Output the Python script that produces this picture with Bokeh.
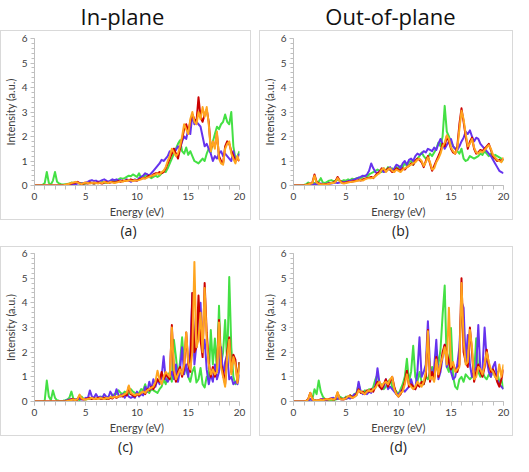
from bokeh.plotting import figure
from bokeh.layouts import column, row
from bokeh.models import SingleIntervalTicker, Range1d, Spacer
from bokeh.core.properties import value
from bokeh.embed import file_html
from bokeh.resources import INLINE

# Energy grid (eV), 0.2 eV steps
energy = [round(0.2 * i, 1) for i in range(101)]

x_ticks_major = 5
y_ticks_major = 1
headings = ["In-plane", "Out-of-plane"]
panel_labels = ["(a)", "(b)", "(c)", "(d)"]
series_names = ["green", "purple", "red", "orange"]

# ---- panel (a) ----
a_green = [0, 0, 0, 0.01, 0.03, 0.1, 0.55, 0.1, 0.04, 0.2,
           0.55, 0.15, 0.08, 0.05, 0.04, 0.05, 0.06, 0.08, 0.12, 0.1,
           0.12, 0.1, 0.08, 0.1, 0.06, 0.08, 0.1, 0.12, 0.1, 0.08,
           0.1, 0.14, 0.12, 0.15, 0.13, 0.1, 0.12, 0.15, 0.2, 0.18,
           0.22, 0.25, 0.3, 0.28, 0.3, 0.35, 0.4, 0.38, 0.45, 0.4,
           0.35, 0.5, 0.3, 0.35, 0.4, 0.45, 0.35, 0.3, 0.35, 0.4,
           0.35, 0.4, 0.5, 0.6, 0.55, 0.7, 0.9, 1.1, 1.3, 1.5,
           1.7, 1.85, 1.4, 1.3, 1.55, 1.25, 1.4, 1.2, 1.0, 0.95,
           0.9, 1.0, 1.1, 1.0, 1.3, 1.5, 1.35, 1.8, 2.1, 2.4,
           2.3, 2.5, 2.6, 2.9, 2.6, 2.5, 3.0, 1.6, 1.1, 1.2,
           1.4]
a_purple = [0, 0, 0, 0, 0, 0, 0, 0, 0, 0,
            0, 0, 0, 0, 0, 0.02, 0.03, 0.05, 0.04, 0.06,
            0.05, 0.08, 0.1, 0.07, 0.1, 0.12, 0.15, 0.2, 0.22, 0.18,
            0.2, 0.15, 0.18, 0.22, 0.25, 0.2, 0.15, 0.2, 0.25, 0.22,
            0.25, 0.2, 0.22, 0.18, 0.2, 0.25, 0.22, 0.15, 0.2, 0.25,
            0.2, 0.3, 0.35, 0.4, 0.5, 0.45, 0.4, 0.5, 0.6, 0.7,
            0.8, 0.9, 1.05, 1.0, 1.1, 1.2, 1.4, 1.3, 1.5, 1.45,
            1.6, 1.5, 1.8, 2.0, 1.9, 2.3, 2.1, 2.9, 2.5, 2.6,
            2.5, 2.4, 2.0, 1.6, 1.7, 1.5, 1.3, 1.0, 1.2, 1.1,
            1.3, 1.4, 1.2, 1.3, 1.2, 1.1, 1.0, 1.4, 1.0, 1.1,
            1.3]
a_red = [0, 0, 0, 0, 0, 0, 0, 0, 0, 0,
         0, 0, 0, 0, 0, 0.02, 0.04, 0.06, 0.08, 0.1,
         0.12, 0.15, 0.1, 0.05, 0.08, 0.1, 0.08, 0.12, 0.1, 0.08,
         0.1, 0.12, 0.1, 0.08, 0.12, 0.15, 0.1, 0.12, 0.15, 0.12,
         0.15, 0.18, 0.15, 0.2, 0.18, 0.22, 0.2, 0.25, 0.22, 0.2,
         0.2, 0.25, 0.28, 0.3, 0.3, 0.35, 0.4, 0.38, 0.45, 0.5,
         0.5, 0.55, 0.5, 0.55, 0.7, 0.9, 1.1, 1.3, 1.5, 1.3,
         1.1, 1.5, 1.9, 2.3, 2.5, 2.2, 2.6, 2.9, 2.7, 2.6,
         3.6, 2.8, 2.6, 2.9, 3.1, 2.6, 1.5, 1.7, 1.6, 2.1,
         1.2, 1.0, 0.9, 1.6, 1.8, 1.7, 1.4, 1.2, 1.0, 1.1,
         1.0]
a_orange = [0, 0, 0, 0, 0, 0, 0, 0, 0, 0,
            0, 0, 0, 0, 0, 0.03, 0.05, 0.07, 0.1, 0.12,
            0.15, 0.12, 0.08, 0.06, 0.1, 0.12, 0.1, 0.08, 0.1, 0.12,
            0.1, 0.08, 0.12, 0.1, 0.15, 0.12, 0.1, 0.15, 0.12, 0.1,
            0.12, 0.15, 0.18, 0.15, 0.2, 0.18, 0.22, 0.2, 0.18, 0.22,
            0.2, 0.22, 0.25, 0.3, 0.28, 0.32, 0.35, 0.4, 0.42, 0.45,
            0.5, 0.45, 0.55, 0.6, 0.75, 1.0, 1.2, 1.5, 1.35, 1.2,
            1.3, 1.6, 2.0, 2.5, 2.3, 2.1, 2.7, 3.0, 2.6, 2.5,
            3.0, 2.7, 3.2, 2.8, 3.2, 2.5, 1.4, 1.8, 1.5, 2.2,
            1.1, 0.9, 0.85, 1.5, 1.7, 1.8, 1.3, 1.1, 0.9, 1.2,
            1.0]

# ---- panel (b) ----
b_green = [0, 0, 0, 0, 0, 0.02, 0.05, 0.12, 0.05, 0.08,
           0.1, 0.08, 0.15, 0.3, 0.12, 0.1, 0.15, 0.2, 0.22, 0.18,
           0.2, 0.25, 0.2, 0.18, 0.22, 0.2, 0.25, 0.22, 0.28, 0.25,
           0.3, 0.32, 0.3, 0.35, 0.4, 0.35, 0.45, 0.5, 0.55, 0.6,
           0.65, 0.6, 0.55, 0.7, 0.6, 0.75, 0.65, 0.7, 0.6, 0.75,
           0.7, 0.8, 0.75, 0.9, 0.8, 0.95, 1.0, 0.85, 1.0, 1.1,
           1.2, 1.35, 1.2, 1.1, 1.15, 1.3, 1.2, 1.35, 1.5, 1.75,
           1.6, 2.0, 3.25, 2.2, 2.0, 1.8, 1.6, 1.5, 1.4, 1.3,
           1.5, 1.1, 1.0, 1.05, 1.2, 1.15, 1.1, 1.15, 1.2, 1.3,
           1.25, 1.4, 1.3, 1.2, 1.3, 1.1, 1.25, 1.2, 1.15, 1.1,
           1.0]
b_purple = [0, 0, 0, 0, 0, 0, 0.02, 0.03, 0.05, 0.04,
            0.05, 0.06, 0.05, 0.08, 0.06, 0.05, 0.07, 0.1, 0.08, 0.1,
            0.12, 0.1, 0.12, 0.15, 0.13, 0.15, 0.18, 0.2, 0.22, 0.25,
            0.28, 0.32, 0.35, 0.4, 0.38, 0.45, 0.6, 0.9, 0.7, 0.55,
            0.5, 0.6, 0.65, 0.55, 0.6, 0.65, 0.75, 0.6, 0.7, 0.85,
            0.8, 0.7, 0.9, 1.0, 0.85, 1.05, 1.1, 1.0, 1.2, 1.3,
            1.25, 1.3, 1.4, 1.35, 1.5, 1.45, 1.4, 1.55, 1.45, 1.7,
            1.9, 1.7, 1.5, 1.65, 1.8, 1.9, 1.6, 1.5, 1.45, 1.6,
            1.8, 1.95, 2.2, 2.1, 2.25, 2.0, 1.8, 1.95, 1.9, 1.7,
            1.6, 1.5, 1.4, 1.3, 1.2, 1.05, 0.9, 0.75, 0.6, 0.55,
            0.5]
b_red = [0, 0, 0, 0, 0, 0, 0.02, 0.05, 0.08, 0.12,
         0.45, 0.15, 0.08, 0.05, 0.04, 0.05, 0.06, 0.08, 0.1, 0.12,
         0.18, 0.35, 0.2, 0.12, 0.1, 0.12, 0.15, 0.14, 0.16, 0.18,
         0.2, 0.22, 0.2, 0.25, 0.28, 0.3, 0.32, 0.35, 0.3, 0.4,
         0.5, 0.55, 0.7, 0.65, 0.6, 0.7, 0.65, 0.55, 0.6, 0.7,
         0.65, 0.6, 0.7, 0.65, 0.75, 0.8, 0.9, 0.85, 1.0, 1.1,
         1.05, 0.95, 0.75, 1.0, 1.2, 0.9, 0.6, 0.8, 1.0, 1.2,
         1.4, 1.7, 1.6, 2.0, 1.8, 1.5, 1.35, 1.3, 1.6, 2.5,
         3.15, 2.6, 2.0, 1.5, 1.8, 1.95, 1.5, 1.3, 1.35, 1.45,
         1.4, 1.5, 1.6, 1.7, 1.45, 1.2, 1.1, 1.0, 1.05, 1.0,
         1.1]
b_orange = [0, 0, 0, 0, 0, 0, 0.02, 0.04, 0.07, 0.1,
            0.4, 0.12, 0.06, 0.04, 0.05, 0.04, 0.05, 0.07, 0.1, 0.1,
            0.15, 0.3, 0.18, 0.1, 0.08, 0.1, 0.12, 0.14, 0.15, 0.16,
            0.18, 0.2, 0.22, 0.2, 0.25, 0.28, 0.3, 0.3, 0.32, 0.38,
            0.45, 0.5, 0.65, 0.7, 0.55, 0.65, 0.7, 0.6, 0.55, 0.65,
            0.6, 0.55, 0.65, 0.7, 0.75, 0.8, 0.85, 0.9, 0.95, 1.05,
            1.1, 1.0, 0.8, 0.95, 1.15, 0.95, 0.65, 0.7, 0.95, 1.1,
            1.3, 1.6, 1.75, 2.05, 1.9, 1.55, 1.4, 1.3, 1.5, 2.3,
            3.05, 2.7, 2.1, 1.6, 1.7, 1.9, 1.55, 1.35, 1.3, 1.4,
            1.35, 1.45, 1.55, 1.65, 1.5, 1.25, 1.15, 1.05, 1.0, 0.95,
            1.15]

# ---- panel (c) ----
c_green = [0, 0, 0, 0, 0, 0.05, 0.85, 0.2, 0.05, 0.45,
           0.15, 0.05, 0.03, 0.02, 0.03, 0.05, 0.08, 0.15, 0.4, 0.1,
           0.08, 0.1, 0.05, 0.2, 0.1, 0.08, 0.12, 0.1, 0.15, 0.12,
           0.1, 0.15, 0.12, 0.2, 0.15, 0.1, 0.2, 0.15, 0.25, 0.3,
           0.3, 0.45, 0.35, 0.3, 0.4, 0.35, 0.3, 0.5, 0.4, 0.35,
           0.3, 0.35, 0.5, 0.45, 0.7, 0.4, 0.35, 0.5, 0.45, 0.4,
           0.35, 0.5, 0.6, 0.9, 0.7, 1.0, 1.2, 0.8, 2.5, 1.8,
           1.0, 1.6, 2.6, 1.5, 1.3, 1.0, 0.8, 1.2, 1.4, 0.77,
           0.9, 1.36, 0.7, 0.57, 1.0, 0.9, 2.9, 1.5, 2.55, 1.2,
           3.88, 1.5, 2.0, 3.3, 1.5, 5.05, 2.2, 1.0, 0.7, 0.9,
           1.6]
c_purple = [0, 0, 0, 0, 0, 0, 0, 0, 0, 0,
            0, 0, 0, 0, 0, 0.02, 0.05, 0.08, 0.1, 0.05,
            0.08, 0.1, 0.12, 0.08, 0.1, 0.15, 0.12, 0.45, 0.2, 0.15,
            0.3, 0.15, 0.2, 0.12, 0.3, 0.2, 0.15, 0.4, 0.25, 0.2,
            0.5, 0.25, 0.2, 0.3, 0.15, 0.3, 0.2, 0.15, 0.2, 0.15,
            0.4, 0.2, 0.3, 0.25, 0.6, 0.4, 0.8, 0.5, 0.9, 0.6,
            0.9, 0.7, 1.0, 1.83, 0.9, 0.8, 1.0, 1.2, 0.9, 1.5,
            0.8, 1.3, 2.2, 1.1, 1.5, 1.0, 2.0, 4.4, 1.5, 2.3,
            3.0, 4.0, 2.0, 2.5, 1.3, 0.7, 1.1, 0.8, 1.5, 0.9,
            1.2, 2.2, 1.0, 1.6, 1.9, 0.9, 1.0, 0.7, 0.8, 0.7,
            1.1]
c_red = [0, 0, 0, 0, 0, 0, 0, 0, 0, 0,
         0, 0, 0, 0, 0, 0, 0.02, 0.05, 0.08, 0.1,
         0.05, 0.08, 0.25, 0.1, 0.08, 0.1, 0.12, 0.15, 0.1, 0.12,
         0.1, 0.15, 0.12, 0.1, 0.15, 0.12, 0.1, 0.15, 0.12, 0.2,
         0.15, 0.2, 0.25, 0.2, 0.3, 0.25, 0.6, 0.3, 0.25, 0.2,
         0.3, 0.25, 0.35, 0.4, 0.3, 0.5, 0.45, 0.6, 0.5, 0.7,
         0.9, 0.8, 1.2, 0.9, 1.1, 1.0, 0.9, 3.1, 1.2, 0.8,
         1.2, 1.4, 1.0, 1.4, 2.8, 1.5, 1.2, 4.4, 2.0, 2.2,
         4.3, 2.5, 1.8, 4.8, 2.8, 1.6, 1.0, 1.4, 1.0, 1.3,
         3.3, 1.5, 1.2, 0.7, 2.0, 2.6, 1.2, 1.9, 1.7, 0.8,
         1.6]
c_orange = [0, 0, 0, 0, 0, 0, 0, 0, 0, 0,
            0, 0, 0, 0, 0, 0, 0.02, 0.04, 0.06, 0.08,
            0.05, 0.1, 0.28, 0.12, 0.1, 0.08, 0.1, 0.12, 0.15, 0.1,
            0.12, 0.1, 0.15, 0.12, 0.1, 0.15, 0.12, 0.18, 0.15, 0.2,
            0.18, 0.2, 0.22, 0.25, 0.3, 0.35, 0.65, 0.35, 0.3, 0.25,
            0.3, 0.28, 0.35, 0.4, 0.35, 0.45, 0.5, 0.55, 0.6, 0.8,
            1.25, 0.9, 0.7, 1.0, 1.2, 1.1, 1.0, 3.0, 1.3, 0.9,
            1.1, 1.3, 1.1, 1.5, 2.8, 1.6, 1.3, 2.0, 5.66, 2.2,
            2.5, 3.6, 2.0, 4.6, 2.5, 1.5, 1.1, 1.3, 1.1, 1.2,
            3.2, 1.4, 1.0, 0.6, 1.8, 2.5, 1.1, 1.8, 1.5, 0.75,
            1.5]

# ---- panel (d) ----
d_green = [0, 0, 0, 0, 0, 0, 0.02, 0.05, 0.08, 0.1,
           0.5, 0.3, 0.85, 0.4, 0.2, 0.1, 0.08, 0.05, 0.06, 0.05,
           0.08, 0.1, 0.2, 0.15, 0.1, 0.2, 0.15, 0.25, 0.2, 0.3,
           0.35, 0.7, 0.4, 0.35, 0.45, 0.4, 0.5, 0.45, 0.6, 0.9,
           1.1, 0.6, 0.7, 0.5, 0.6, 0.8, 0.9, 0.6, 0.5, 0.4,
           0.3, 0.5, 0.7, 1.0, 1.73, 0.8, 1.2, 2.26, 1.0, 0.8,
           1.2, 0.8, 0.7, 1.0, 0.9, 1.2, 1.4, 1.0, 2.1, 1.5,
           2.1, 3.5, 4.7, 1.4, 1.2, 2.98, 1.0, 0.6, 0.5, 0.9,
           1.0, 0.8, 1.1, 1.0, 0.9, 1.0, 1.1, 2.56, 1.2, 1.0,
           1.2, 1.0, 0.9, 1.1, 1.0, 1.3, 1.0, 1.2, 0.8, 0.9,
           0.5]
d_purple = [0, 0, 0, 0, 0, 0, 0, 0.03, 0.1, 0.05,
            0.05, 0.03, 0.05, 0.08, 0.1, 0.05, 0.08, 0.1, 0.12, 0.15,
            0.1, 0.12, 0.1, 0.08, 0.12, 0.1, 0.15, 0.12, 0.2, 0.3,
            0.25, 0.8, 0.4, 0.3, 0.35, 0.3, 0.4, 0.35, 0.5, 0.6,
            1.35, 0.7, 0.5, 0.6, 0.9, 0.5, 0.6, 0.5, 0.4, 0.3,
            0.3, 0.4, 0.5, 0.4, 0.5, 0.6, 0.9, 0.6, 0.5, 1.2,
            2.6, 1.0, 1.2, 1.5, 3.25, 1.4, 1.0, 1.4, 2.5, 0.9,
            1.2, 1.8, 2.3, 1.4, 1.7, 1.2, 0.9, 1.0, 1.5, 2.2,
            4.05, 3.8, 1.6, 2.7, 1.5, 1.0, 1.2, 1.4, 3.1, 1.2,
            1.3, 3.0, 1.7, 1.2, 1.0, 1.4, 1.6, 0.9, 0.7, 0.6,
            0.5]
d_red = [0, 0, 0, 0, 0, 0, 0.02, 0.1, 0.35, 0.1,
         0.05, 0.03, 0.05, 0.08, 0.05, 0.1, 0.08, 0.1, 0.12, 0.08,
         0.1, 0.35, 0.12, 0.1, 0.08, 0.15, 0.2, 0.25, 0.15, 0.2,
         0.3, 0.5, 0.35, 0.4, 0.3, 0.45, 0.4, 0.5, 0.4, 0.6,
         0.8, 0.6, 0.5, 0.7, 0.9, 0.6, 0.8, 1.0, 0.6, 0.3,
         0.2, 0.3, 0.5, 0.8, 1.25, 0.6, 0.7, 0.6, 0.5, 0.7,
         0.6, 0.8, 0.7, 1.0, 2.9, 0.8, 1.2, 0.9, 1.8, 1.0,
         1.4, 2.0, 2.3, 2.0, 1.6, 1.3, 1.5, 1.3, 1.2, 1.5,
         5.0, 2.0, 1.6, 1.4, 3.0, 2.0, 0.8, 1.2, 1.5, 1.2,
         1.0, 1.4, 2.1, 1.5, 1.2, 1.3, 1.1, 0.8, 0.6, 0.9,
         1.3]
d_orange = [0, 0, 0, 0, 0, 0, 0.02, 0.08, 0.35, 0.08,
            0.05, 0.04, 0.05, 0.06, 0.05, 0.08, 0.1, 0.08, 0.1, 0.08,
            0.12, 0.38, 0.1, 0.08, 0.1, 0.12, 0.22, 0.2, 0.15, 0.18,
            0.25, 0.45, 0.4, 0.35, 0.3, 0.4, 0.45, 0.4, 0.5, 0.55,
            0.7, 0.8, 0.6, 0.75, 0.8, 0.7, 0.9, 1.0, 0.5, 0.3,
            0.2, 0.35, 0.4, 0.7, 1.1, 0.7, 0.6, 0.5, 0.6, 0.8,
            0.7, 0.6, 0.8, 1.2, 2.85, 0.9, 1.0, 0.8, 1.7, 1.1,
            1.5, 1.8, 2.2, 1.5, 3.8, 1.4, 1.6, 1.2, 1.3, 1.4,
            4.8, 2.5, 1.5, 1.6, 2.9, 2.2, 0.9, 1.0, 1.4, 1.3,
            1.1, 1.5, 2.0, 1.6, 1.3, 1.2, 1.0, 0.9, 1.5, 1.0,
            1.5]

panels = [
    [a_green, a_purple, a_red, a_orange],
    [b_green, b_purple, b_red, b_orange],
    [c_green, c_purple, c_red, c_orange],
    [d_green, d_purple, d_red, d_orange],
]

COLORS = {"green": "#44e044", "purple": "#6633ee", "red": "#cc0000", "orange": "#ffa51f"}
AXIS_GRAY = "#bfbfbf"
TEXT_GRAY = "#404040"
TICK_FONT = "Lato"
BOX_STYLE = {"outline": "1px solid #d9d9d9", "outline-offset": "-1px"}


def make_panel(series, w, h, fl, fr, ft, fb):
    p = figure(width=w, height=h, x_range=Range1d(0, 20), y_range=Range1d(0, 6),
               output_backend="svg", toolbar_location=None,
               min_border_left=fl, min_border_right=fr,
               min_border_top=ft, min_border_bottom=fb, styles=BOX_STYLE)
    p.outline_line_color = None
    p.xgrid.visible = False
    p.ygrid.visible = False
    p.background_fill_color = None
    p.border_fill_color = None

    for name, ys in zip(series_names, series):
        p.line(energy, ys, line_color=COLORS[name], line_width=2, line_join="round")

    p.xaxis.ticker = SingleIntervalTicker(interval=x_ticks_major, num_minor_ticks=5)
    p.yaxis.ticker = SingleIntervalTicker(interval=y_ticks_major, num_minor_ticks=5)
    for ax in (p.xaxis[0], p.yaxis[0]):
        ax.axis_line_color = AXIS_GRAY
        ax.major_tick_line_color = AXIS_GRAY
        ax.minor_tick_line_color = AXIS_GRAY
        ax.major_tick_in = 0
        ax.minor_tick_in = 0
        ax.major_tick_out = 4
        ax.minor_tick_out = 3
        ax.major_label_text_font = TICK_FONT
        ax.major_label_text_font_size = "10px"
        ax.major_label_text_color = TEXT_GRAY
        ax.axis_label_text_font = TICK_FONT
        ax.axis_label_text_font_size = "11px"
        ax.axis_label_text_font_style = "normal"
        ax.axis_label_text_color = TEXT_GRAY
        ax.major_label_standoff = 3
        ax.axis_label_standoff = 2
    p.xaxis.minor_tick_out = 4
    p.xaxis.axis_label = "Energy (eV)"
    p.yaxis.axis_label = "Intensity (a.u.)"
    return p


def make_text(w, h, txt, cx, cy, size, color):
    # canvas-pixel coordinates: x to the right, y downward
    p = figure(width=w, height=h, x_range=Range1d(0, w), y_range=Range1d(h, 0),
               output_backend="svg", toolbar_location=None,
               x_axis_type=None, y_axis_type=None, min_border=0)
    p.outline_line_color = None
    p.background_fill_color = None
    p.border_fill_color = None
    p.text(x=[cx], y=[cy], text=[txt], text_align="center", text_baseline="middle",
           text_font=value("Open Sans"), text_font_size=size, text_color=color)
    return p


# widths: left column 259 (panel 251 + gap 8), right column 254
head_a = make_text(259, 30, headings[0], 122, 15, "22px", "#111111")
head_b = make_text(254, 30, headings[1], 131, 15, "22px", "#111111")

p_a = make_panel(panels[0], 251, 190, 26, 12, 8, 33)
p_b = make_panel(panels[1], 254, 190, 33, 10, 8, 33)
lab_a = make_text(259, 20, panel_labels[0], 128, 10, "14px", "#222222")
lab_b = make_text(254, 20, panel_labels[1], 141, 10, "14px", "#222222")

p_c = make_panel(panels[2], 251, 190, 26, 12, 7, 34)
p_d = make_panel(panels[3], 254, 190, 33, 10, 7, 34)
lab_c = make_text(259, 20, panel_labels[2], 125, 10, "14px", "#222222")
lab_d = make_text(254, 20, panel_labels[3], 139, 10, "14px", "#222222")

layout = column(
    row(head_a, head_b),
    row(p_a, Spacer(width=8, height=190), p_b),
    row(lab_a, lab_b),
    Spacer(width=513, height=6),
    row(p_c, Spacer(width=8, height=190), p_d),
    row(lab_c, lab_d),
)

open("out.html", "w").write(file_html(layout, INLINE))
